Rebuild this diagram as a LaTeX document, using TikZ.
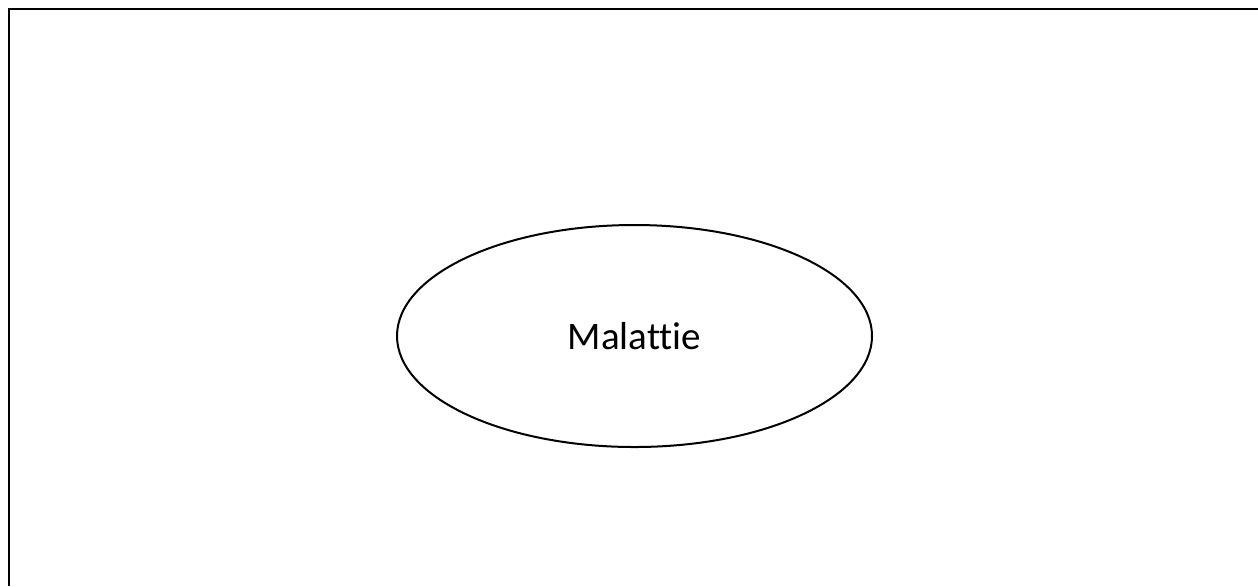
\documentclass[tikz,border=0pt]{standalone}
\usepackage{fontspec}
\setmainfont[Ligatures=NoCommon]{Carlito}
\usetikzlibrary{shapes.geometric}

\begin{document}
\begin{tikzpicture}[x=0.5pt,y=-0.5pt]
    % bordo della pagina
    \useasboundingbox (0,0) rectangle (1258,586);
    \draw[line width=1.3pt] (9,586) -- (9,9) -- (1258,9);

    % ellisse centrale
    \node[draw, ellipse, line width=1pt, minimum width=237.5pt, minimum height=111pt,
          inner sep=0pt, font=\fontsize{19.5}{23}\selectfont] (malattie) at (634.5,336) {Malattie};
\end{tikzpicture}
\end{document}
